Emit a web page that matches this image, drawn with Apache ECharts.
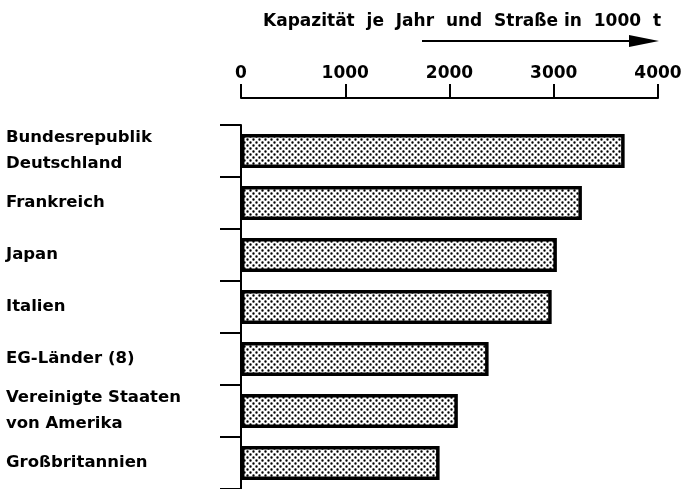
<!DOCTYPE html>
<html>
<head>
<meta charset="utf-8">
<script src="https://cdn.jsdelivr.net/npm/echarts@6/dist/echarts.min.js"></script>
<style>
    html, body { margin: 0; padding: 0; background: #fff; }
    #chart { width: 685px; height: 489px; }
</style>
</head>
<body>
<div id="chart"></div>
<script>
const countries = [
    "Bundesrepublik\nDeutschland",
    "Frankreich",
    "Japan",
    "Italien",
    "EG-Länder (8)",
    "Vereinigte Staaten\nvon Amerika",
    "Großbritannien"
];
const capacity = [3680, 3270, 3030, 2980, 2375, 2080, 1905];
const titleText = "Kapazität  je  Jahr  und  Straße in  1000  t";

const font = "DejaVu Sans";

// dotted fill like the printed raster
function dotPattern() {
    const c = document.createElement("canvas");
    c.width = 6;
    c.height = 6;
    const ctx = c.getContext("2d");
    ctx.fillStyle = "#fff";
    ctx.fillRect(0, 0, 6, 6);
    ctx.fillStyle = "#000";
    ctx.beginPath();
    ctx.arc(1.5, 1.5, 1.2, 0, Math.PI * 2);
    ctx.arc(4.5, 4.5, 1.2, 0, Math.PI * 2);
    ctx.fill();
    return c;
}

const chart = echarts.init(document.getElementById("chart"));
chart.setOption({
    animation: false,
    title: {
        text: titleText,
        left: 258,
        top: 8,
        textStyle: {
            fontFamily: font,
            fontWeight: "bold",
            fontSize: 17,
            color: "#000"
        }
    },
    grid: {
        left: 241,
        right: 27,
        top: 125,
        bottom: 0
    },
    xAxis: {
        type: "value",
        position: "top",
        offset: 27,
        min: 0,
        max: 4000,
        interval: 1000,
        axisLine: { show: true, lineStyle: { color: "#000", width: 2 } },
        axisTick: { show: true, length: 14, lineStyle: { color: "#000", width: 2 } },
        splitLine: { show: false },
        axisLabel: {
            margin: 16,
            fontFamily: font,
            fontWeight: "bold",
            fontSize: 17,
            color: "#000",
            formatter: v => String(v)
        }
    },
    yAxis: {
        type: "category",
        inverse: true,
        data: countries,
        axisLine: { show: true, lineStyle: { color: "#000", width: 2 } },
        axisTick: { show: true, length: 21, lineStyle: { color: "#000", width: 2 } },
        axisLabel: {
            align: "left",
            margin: 235,
            fontFamily: font,
            fontWeight: "bold",
            fontSize: 16.5,
            lineHeight: 26,
            color: "#000"
        }
    },
    series: [{
        type: "bar",
        data: capacity,
        barWidth: 34,
        itemStyle: {
            color: { image: dotPattern(), repeat: "repeat" },
            borderColor: "#000",
            borderWidth: 3.5
        }
    }],
    graphic: [
        {
            type: "line",
            shape: { x1: 422, y1: 41, x2: 640, y2: 41 },
            style: { stroke: "#000", lineWidth: 2 }
        },
        {
            type: "polygon",
            shape: { points: [[629, 35], [659, 41], [629, 47]] },
            style: { fill: "#000" }
        }
    ]
});
</script>
</body>
</html>
